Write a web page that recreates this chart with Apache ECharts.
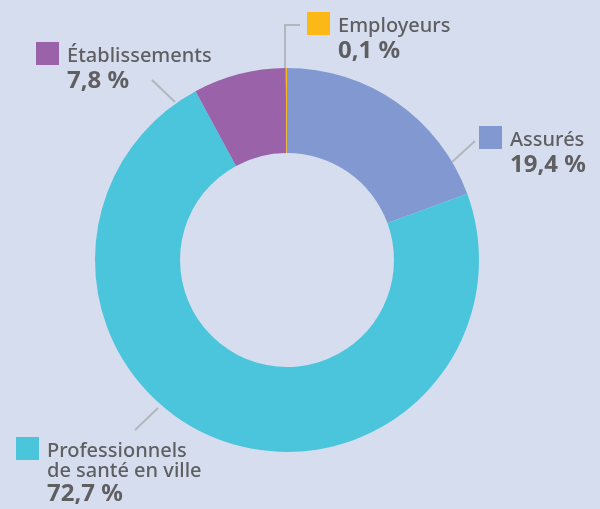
<!DOCTYPE html>
<html>
<head>
<meta charset="utf-8">
<script src="https://cdn.jsdelivr.net/npm/echarts@6/dist/echarts.min.js"></script>
<style>
  html, body { margin: 0; padding: 0; background: #d5ddef; }
  #chart { width: 600px; height: 509px; }
</style>
</head>
<body>
<div id="chart"></div>
<script>
var myChart = echarts.init(document.getElementById('chart'));

// parts of the total, in %, clockwise from the top
var names = ['Assurés', 'Professionnels\nde santé en ville', 'Établissements', 'Employeurs'];
var values = [19.4, 72.7, 7.8, 0.1];
var colors = ['#8199d0', '#4ac5db', '#9a63a9', '#fbb816'];

// where each label box starts (top-left of the square) and its connector line
var labelPos = [
    {x: 479, y: 126, line: [[452, 162], [475, 141]]},
    {x: 16, y: 437, line: [[158, 408], [135, 430]]},
    {x: 36, y: 42, line: [[175, 102], [152, 80]]},
    {x: 307, y: 12, line: [[285, 68], [285, 25], [300, 25]]}
];

var fmt = function (v) {
    return String(v).replace('.', ',') + ' %';
};

var data = [];
for (var i = 0; i < values.length; i++) {
    data.push({name: names[i], value: values[i], itemStyle: {color: colors[i]}});
}

var textColor = '#5f5f61';
var font = 'Noto Sans';

option = {
    backgroundColor: '#d5ddef',
    animation: false,
    series: [
        {
            type: 'pie',
            center: [287, 260],
            radius: [107, 192],
            startAngle: 90,
            clockwise: true,
            avoidLabelOverlap: false,
            emphasis: {disabled: true},
            data: data,
            label: {
                show: true,
                position: 'outside',
                color: textColor,
                fontFamily: font,
                formatter: function (p) {
                    var lines = p.name.split('\n');
                    var s = '{sq|}{name|' + lines[0] + '}';
                    for (var k = 1; k < lines.length; k++) {
                        s += '\n{ind|}{name2|' + lines[k] + '}';
                    }
                    var vs = lines.length > 1 ? 'valB' : 'val';
                    s += '\n{ind|}{' + vs + '|' + fmt(p.value) + '}';
                    return s;
                },
                rich: {
                    sq: {
                        width: 23,
                        height: 23,
                        lineHeight: 24,
                        verticalAlign: 'top',
                        backgroundColor: 'inherit'
                    },
                    ind: {width: 31, height: 1, lineHeight: 1},
                    name: {
                        fontSize: 20,
                        lineHeight: 28,
                        fontWeight: 500,
                        color: textColor,
                        fontFamily: font,
                        padding: [0, 0, 0, 8]
                    },
                    name2: {
                        fontSize: 20,
                        lineHeight: 12,
                        fontWeight: 500,
                        color: textColor,
                        fontFamily: font
                    },
                    val: {
                        fontSize: 24,
                        lineHeight: 23,
                        fontWeight: 'bold',
                        color: textColor,
                        fontFamily: font
                    },
                    valB: {
                        fontSize: 24,
                        lineHeight: 34,
                        fontWeight: 'bold',
                        color: textColor,
                        fontFamily: font
                    }
                }
            },
            labelLine: {
                show: true,
                lineStyle: {color: '#b3b6bd', width: 2}
            },
            labelLayout: function (params) {
                var p = labelPos[params.dataIndex];
                return {
                    x: p.x,
                    y: p.y,
                    align: 'left',
                    verticalAlign: 'top',
                    labelLinePoints: p.line
                };
            }
        }
    ]
};

myChart.setOption(option);
</script>
</body>
</html>
